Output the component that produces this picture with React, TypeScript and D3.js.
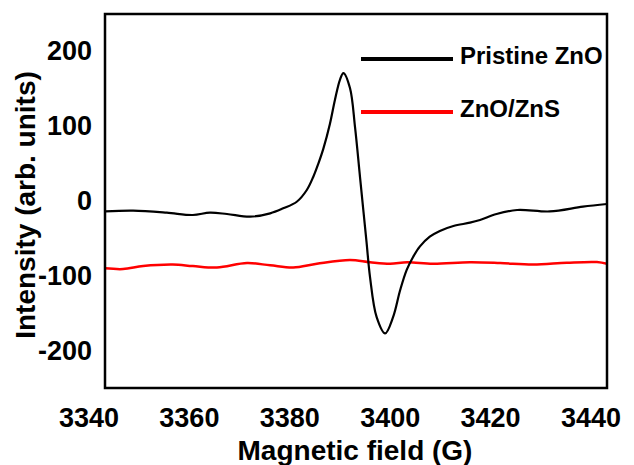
import { useEffect, useRef } from "react";
import * as d3 from "d3";

// magnetic field (G) and intensity
const pristineField = [
  3341.6, 3347.2, 3353.9, 3359.1, 3362.5, 3365.9, 3370.5, 3374.5, 3377.1,
  3379.8, 3381.8, 3383.1, 3384.1, 3385.1, 3386.4, 3387.4, 3388.4, 3389.1,
  3390.4, 3391.4, 3392.4, 3393.1, 3393.7, 3394.4, 3395.7, 3397.4, 3399.0,
  3400.4, 3401.7, 3403.0, 3404.3, 3406.3, 3408.3, 3411.0, 3414.3, 3416.3,
  3419.6, 3423.7, 3430.2, 3436.8, 3441.6,
];
const pristineIntensity = [
  -14, -13, -15.6, -18.7, -15.6, -17.4, -21, -16.5, -9.8, -1, 14.7, 32.5, 50,
  70, 103, 135, 162, 171, 151, 99, 32, -15, -55, -102, -155, -177, -155, -119,
  -92, -74.5, -61, -47.7, -40, -33.4, -29, -25.4, -17.4, -12, -14, -7.6, -4,
];

const znsField = [
  3341.6, 3345.2, 3349.2, 3355.1, 3359.1, 3363.9, 3369.9, 3374.5, 3379.1,
  3383.8, 3390.4, 3394.4, 3398.4, 3401.8, 3406.9, 3414.3, 3420.3, 3426.9,
  3433.6, 3439.6, 3441.6,
];
const znsIntensity = [
  -90, -91, -87, -85, -87, -89, -83, -86, -89, -84, -79, -82, -84, -82, -84,
  -82, -83, -85, -82.5, -81.6, -84,
];

const xTicks = [3340, 3360, 3380, 3400, 3420, 3440];
const yTicks = [200, 100, 0, -100, -200];

const seriesNames = ["Pristine ZnO", "ZnO/ZnS"];
const seriesColors = ["#000000", "#ff0000"];

const FONT = "'Liberation Sans', Arial, sans-serif";

export default function App() {
  const svgRef = useRef<SVGSVGElement>(null);

  useEffect(() => {
    if (!svgRef.current) return;
    const width = 634;
    const height = 465;
    const plot = { left: 105, top: 14, right: 607, bottom: 388 };

    const svg = d3.select(svgRef.current);
    svg.selectAll("*").remove();
    svg.attr("width", width).attr("height", height);

    const x = d3
      .scaleLinear()
      .domain([3341.6, 3441.6])
      .range([plot.left, plot.right]);
    const y = d3
      .scaleLinear()
      .domain([-250, 250])
      .range([plot.bottom, plot.top]);

    const line = d3
      .line<[number, number]>()
      .x((d) => x(d[0]))
      .y((d) => y(d[1]))
      .curve(d3.curveCatmullRom.alpha(0.5));

    const series = [
      d3.zip(pristineField, pristineIntensity) as [number, number][],
      d3.zip(znsField, znsIntensity) as [number, number][],
    ];

    // red first so black draws on top
    svg
      .append("path")
      .datum(series[1])
      .attr("d", line)
      .attr("fill", "none")
      .attr("stroke", seriesColors[1])
      .attr("stroke-width", 2.5);

    svg
      .append("path")
      .datum(series[0])
      .attr("d", line)
      .attr("fill", "none")
      .attr("stroke", seriesColors[0])
      .attr("stroke-width", 2.2);

    // frame
    svg
      .append("rect")
      .attr("x", plot.left)
      .attr("y", plot.top)
      .attr("width", plot.right - plot.left)
      .attr("height", plot.bottom - plot.top)
      .attr("fill", "none")
      .attr("stroke", "#000")
      .attr("stroke-width", 2.5);

    // tick labels
    svg
      .append("g")
      .selectAll("text")
      .data(xTicks)
      .enter()
      .append("text")
      .attr("x", (d) => x(d) - 8)
      .attr("y", 427)
      .attr("text-anchor", "middle")
      .style("font-family", FONT)
      .style("font-weight", "bold")
      .style("font-size", "27px")
      .text((d) => d);

    svg
      .append("g")
      .selectAll("text")
      .data(yTicks)
      .enter()
      .append("text")
      .attr("x", 92)
      .attr("y", (d) => y(d) + 9)
      .attr("text-anchor", "end")
      .style("font-family", FONT)
      .style("font-weight", "bold")
      .style("font-size", "27px")
      .text((d) => d);

    // axis titles
    svg
      .append("text")
      .attr("x", 355)
      .attr("y", 460)
      .attr("text-anchor", "middle")
      .style("font-family", FONT)
      .style("font-weight", "bold")
      .style("font-size", "28px")
      .text("Magnetic field (G)");

    svg
      .append("text")
      .attr("transform", "translate(35,205) rotate(-90)")
      .attr("text-anchor", "middle")
      .style("font-family", FONT)
      .style("font-weight", "bold")
      .style("font-size", "28px")
      .text("Intensity (arb. units)");

    // legend
    const legend = svg.append("g").attr("transform", "translate(361,59)");
    legend
      .selectAll(".legend-item")
      .data(seriesNames)
      .enter()
      .append("g")
      .attr("class", "legend-item")
      .attr("transform", (_d, i) => `translate(0, ${i * 53})`)
      .each(function (d, i) {
        const g = d3.select(this);
        g.append("line")
          .attr("x1", 0)
          .attr("x2", 92)
          .attr("stroke", seriesColors[i])
          .attr("stroke-width", 4);
        g.append("text")
          .attr("x", 99)
          .attr("y", 5)
          .style("font-family", FONT)
          .style("font-weight", "bold")
          .style("font-size", "24px")
          .text(d);
      });
  }, []);

  return (
    <div style={{ position: "absolute", left: 0, top: 0 }}>
      <svg ref={svgRef} />
    </div>
  );
}
